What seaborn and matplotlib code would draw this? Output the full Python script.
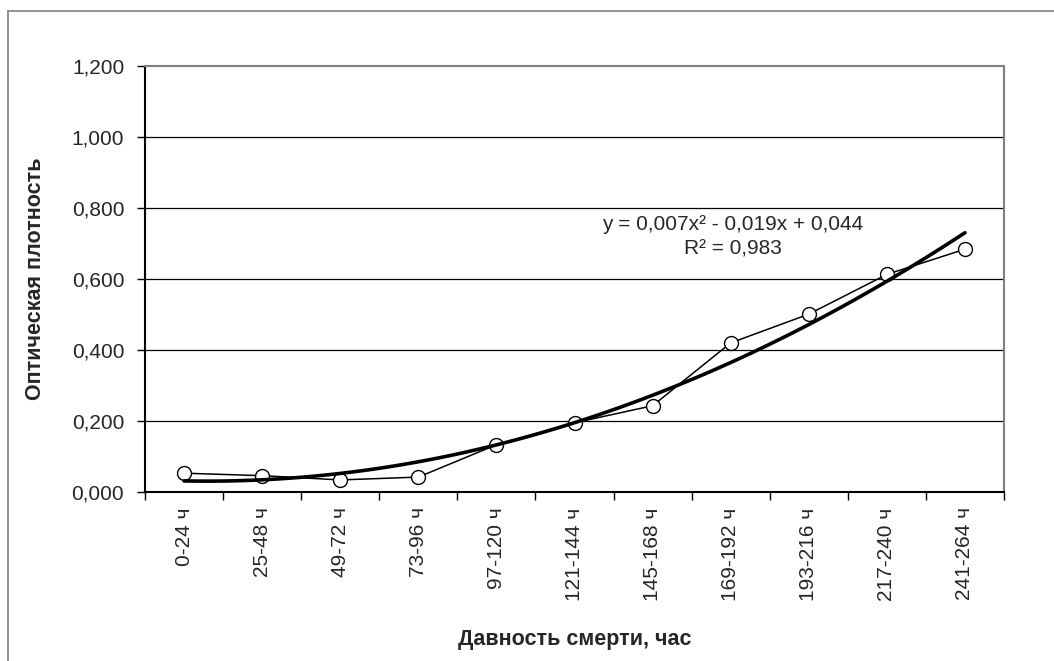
import matplotlib
matplotlib.use('Agg')
import matplotlib.pyplot as plt
import seaborn as sns
import numpy as np
import pandas as pd
from matplotlib.lines import Line2D
from matplotlib.ticker import FuncFormatter

categories = ['0-24 ч', '25-48 ч', '49-72 ч', '73-96 ч', '97-120 ч', '121-144 ч',
              '145-168 ч', '169-192 ч', '193-216 ч', '217-240 ч', '241-264 ч']
density = [0.053, 0.046, 0.034, 0.042, 0.133, 0.195, 0.243, 0.420, 0.501, 0.613, 0.684]
y_ticks = [0.0, 0.2, 0.4, 0.6, 0.8, 1.0, 1.2]
equation = 'y = 0,007x\u00b2 - 0,019x + 0,044\nR\u00b2 = 0,983'

sns.set_style('white')
plt.rcParams['font.family'] = ['Liberation Sans', 'DejaVu Sans']

df = pd.DataFrame({'x': np.arange(1, len(categories) + 1), 'y': density})

fig = plt.figure(figsize=(10.54, 6.61), dpi=100)
ax = fig.add_axes([145 / 1054, 1 - 492 / 661, (1004 - 145) / 1054, (492 - 66) / 661])

# outer chart frame (runs off the right and bottom edges)
fig.add_artist(Line2D([8 / 1054, 8 / 1054], [1 - 11 / 661, 0], transform=fig.transFigure,
                      color='#808080', lw=1.2))
fig.add_artist(Line2D([8 / 1054, 1], [1 - 11 / 661, 1 - 11 / 661], transform=fig.transFigure,
                      color='#808080', lw=1.2))

for v in y_ticks[1:-1]:
    ax.axhline(v, color='black', lw=0.9, zorder=1)

sns.lineplot(data=df, x='x', y='y', ax=ax, color='black', lw=1.1, marker='o',
             markersize=10, markerfacecolor='white', markeredgecolor='black',
             markeredgewidth=1.0, zorder=3)
sns.regplot(data=df, x='x', y='y', ax=ax, order=2, scatter=False, ci=None,
            line_kws={'color': 'black', 'lw': 2.6, 'zorder': 4})

# trendline label
ax.text(8.03, 0.72, equation, ha='center', va='center', fontsize=15, linespacing=1.35)

ax.set_xlim(0.5, len(categories) + 0.5)
ax.set_ylim(0, 1.2)
ax.set_yticks(y_ticks)
ax.yaxis.set_major_formatter(FuncFormatter(lambda v, p: f'{v:.3f}'.replace('.', ',')))

ax.set_xticks(np.arange(0.5, len(categories) + 1, 1.0))
ax.set_xticklabels([])
ax.set_xticks(df['x'], minor=True)
ax.set_xticklabels(categories, minor=True, rotation=90)
ax.tick_params(axis='x', which='major', length=6, width=1, color='black', direction='out')
ax.tick_params(axis='x', which='minor', length=0, pad=11, labelsize=15)
ax.tick_params(axis='y', length=6, width=1, color='black', direction='out', labelsize=15, pad=9)
ax.tick_params(left=True, bottom=True)

ax.spines['left'].set_color('black')
ax.spines['left'].set_linewidth(1.5)
ax.spines['bottom'].set_color('black')
ax.spines['bottom'].set_linewidth(1.5)
ax.spines['top'].set_color('#808080')
ax.spines['top'].set_linewidth(1.5)
ax.spines['right'].set_color('#808080')
ax.spines['right'].set_linewidth(1.5)

ax.set_xlabel('')
ax.set_ylabel('')
fig.text(575 / 1054, 1 - 640 / 661, 'Давность смерти, час', ha='center', va='center',
         fontsize=15.5, fontweight='bold')
fig.text(36 / 1054, 1 - 279 / 661, 'Оптическая плотность', ha='center', va='center',
         rotation=90, fontsize=15.5, fontweight='bold')

fig.savefig('out.png', dpi=100, facecolor='white')
